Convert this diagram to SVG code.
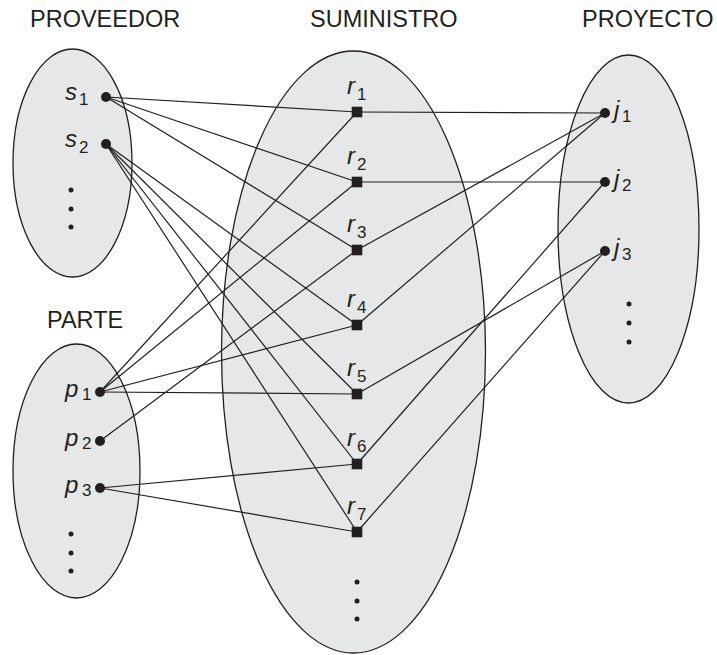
<svg xmlns="http://www.w3.org/2000/svg" width="717" height="655" viewBox="0 0 717 655">
<style>
.set{fill:#e6e7e8;stroke:#231f20;stroke-width:1.3}
.title{font-family:"Liberation Sans",Arial,sans-serif;font-size:23.5px;fill:#231f20}
.lbl{font-family:"Liberation Sans",Arial,sans-serif;font-size:24px;font-style:italic;fill:#231f20}
.sub{font-family:"Liberation Sans",Arial,sans-serif;font-size:17px;font-style:normal}
.dot{fill:#231f20}
.edge{stroke:#231f20;stroke-width:1.2;fill:none}
</style>
<rect width="717" height="655" fill="#ffffff"/>
<g id="sets">
<ellipse class="set" cx="72.5" cy="163" rx="59.5" ry="114"/>
<ellipse class="set" cx="76.5" cy="471" rx="63.5" ry="127"/>
<ellipse class="set" cx="353.5" cy="352" rx="132" ry="301"/>
<ellipse class="set" cx="628.5" cy="229" rx="70.5" ry="174"/>
</g>
<g id="titles">
<text class="title" x="30" y="27">PROVEEDOR</text>
<text class="title" x="310" y="27">SUMINISTRO</text>
<text class="title" x="582" y="27">PROYECTO</text>
<text class="title" x="47" y="328">PARTE</text>
</g>
<g id="connectors" class="edge">
<line x1="106" y1="97" x2="357" y2="112"/>
<line x1="106" y1="97" x2="357" y2="182"/>
<line x1="106" y1="97" x2="357" y2="250"/>
<line x1="106" y1="144" x2="357" y2="325"/>
<line x1="106" y1="144" x2="357" y2="394"/>
<line x1="106" y1="144" x2="357" y2="464"/>
<line x1="106" y1="144" x2="357" y2="532"/>
<line x1="100" y1="392" x2="357" y2="112"/>
<line x1="100" y1="392" x2="357" y2="182"/>
<line x1="100" y1="392" x2="357" y2="325"/>
<line x1="100" y1="392" x2="357" y2="394"/>
<line x1="100" y1="441" x2="357" y2="250"/>
<line x1="100" y1="488" x2="357" y2="464"/>
<line x1="100" y1="488" x2="357" y2="532"/>
<line x1="357" y1="112" x2="605" y2="113"/>
<line x1="357" y1="182" x2="605" y2="182"/>
<line x1="357" y1="250" x2="605" y2="113"/>
<line x1="357" y1="325" x2="605" y2="113"/>
<line x1="357" y1="394" x2="605" y2="251"/>
<line x1="357" y1="464" x2="605" y2="182"/>
<line x1="357" y1="532" x2="605" y2="251"/>
</g>
<g id="s1"><circle class="dot" cx="106" cy="97" r="5"/><text class="lbl" x="65" y="100">s<tspan class="sub" x="79" y="105">1</tspan></text></g>
<g id="s2"><circle class="dot" cx="106" cy="144" r="5"/><text class="lbl" x="65" y="147">s<tspan class="sub" x="79" y="153">2</tspan></text></g>
<g id="s-more"><circle class="dot" cx="71" cy="190" r="2.5"/><circle class="dot" cx="71" cy="209" r="2.5"/><circle class="dot" cx="71" cy="227" r="2.5"/></g>
<g id="p1"><circle class="dot" cx="100" cy="392" r="5"/><text class="lbl" x="65" y="397">p<tspan class="sub" x="82" y="400">1</tspan></text></g>
<g id="p2"><circle class="dot" cx="100" cy="441" r="5"/><text class="lbl" x="65" y="446">p<tspan class="sub" x="82" y="449">2</tspan></text></g>
<g id="p3"><circle class="dot" cx="100" cy="488" r="5"/><text class="lbl" x="65" y="493">p<tspan class="sub" x="82" y="496">3</tspan></text></g>
<g id="p-more"><circle class="dot" cx="71" cy="534" r="2.5"/><circle class="dot" cx="71" cy="553" r="2.5"/><circle class="dot" cx="71" cy="571" r="2.5"/></g>
<g id="r1"><rect class="dot" x="351.7" y="106.7" width="10.6" height="10.6"/><text class="lbl" x="347" y="94">r<tspan class="sub" x="357" y="100">1</tspan></text></g>
<g id="r2"><rect class="dot" x="351.7" y="176.7" width="10.6" height="10.6"/><text class="lbl" x="347" y="164">r<tspan class="sub" x="357" y="170">2</tspan></text></g>
<g id="r3"><rect class="dot" x="351.7" y="244.7" width="10.6" height="10.6"/><text class="lbl" x="347" y="232">r<tspan class="sub" x="357" y="238">3</tspan></text></g>
<g id="r4"><rect class="dot" x="351.7" y="319.7" width="10.6" height="10.6"/><text class="lbl" x="347" y="307">r<tspan class="sub" x="357" y="313">4</tspan></text></g>
<g id="r5"><rect class="dot" x="351.7" y="388.7" width="10.6" height="10.6"/><text class="lbl" x="347" y="376">r<tspan class="sub" x="357" y="382">5</tspan></text></g>
<g id="r6"><rect class="dot" x="351.7" y="458.7" width="10.6" height="10.6"/><text class="lbl" x="347" y="446">r<tspan class="sub" x="357" y="452">6</tspan></text></g>
<g id="r7"><rect class="dot" x="351.7" y="526.7" width="10.6" height="10.6"/><text class="lbl" x="347" y="514">r<tspan class="sub" x="357" y="520">7</tspan></text></g>
<g id="r-more"><circle class="dot" cx="357" cy="582" r="2.5"/><circle class="dot" cx="357" cy="601" r="2.5"/><circle class="dot" cx="357" cy="619" r="2.5"/></g>
<g id="j1"><circle class="dot" cx="605" cy="113" r="5"/><text class="lbl" x="614" y="118">j<tspan class="sub" x="622" y="122">1</tspan></text></g>
<g id="j2"><circle class="dot" cx="605" cy="182" r="5"/><text class="lbl" x="614" y="187">j<tspan class="sub" x="622" y="191">2</tspan></text></g>
<g id="j3"><circle class="dot" cx="605" cy="251" r="5"/><text class="lbl" x="614" y="256">j<tspan class="sub" x="622" y="260">3</tspan></text></g>
<g id="j-more"><circle class="dot" cx="629" cy="304" r="2.5"/><circle class="dot" cx="629" cy="323" r="2.5"/><circle class="dot" cx="629" cy="342" r="2.5"/></g>
</svg>
